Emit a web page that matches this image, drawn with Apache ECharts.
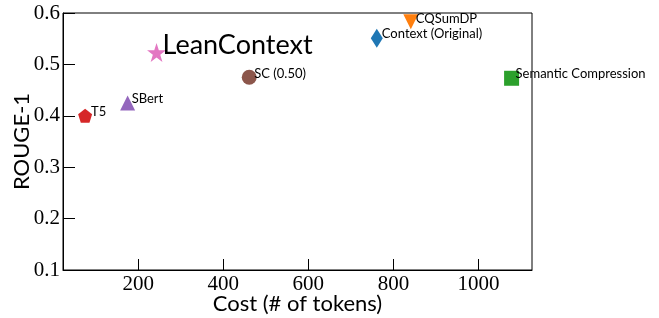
<!DOCTYPE html>
<html>
<head>
<meta charset="utf-8">
<script src="https://cdn.jsdelivr.net/npm/echarts@6/dist/echarts.min.js"></script>
<style>
  html, body { margin: 0; padding: 0; background: #fff; }
  #chart { width: 659px; height: 318px; }
</style>
</head>
<body>
<div id="chart"></div>
<script>
// methods and their cost / score
const methods = ["Context (Original)", "CQSumDP", "Semantic Compression", "T5", "SBert", "SC (0.50)", "LeanContext"];
const costs = [761, 841, 1078, 75, 175, 461, 243];
const rouge = [0.551, 0.583, 0.473, 0.400, 0.425, 0.475, 0.523];
const xTicks = [200, 400, 600, 800, 1000];
const yTicks = [0.1, 0.2, 0.3, 0.4, 0.5, 0.6];

const colors = ["#1f77b4", "#ff7f0e", "#2ca02c", "#d62728", "#9467bd", "#8c564b", "#e377c2"];
const star = "path://M50,0 L61.8,35.4 L99,35.4 L69.1,57.3 L80.3,92.7 L50,70.8 L19.7,92.7 L30.9,57.3 L1,35.4 L38.2,35.4 Z";
const pentagon = "path://M50,0 L97.6,34.5 L79.4,90.5 L20.6,90.5 L2.4,34.5 Z";
const symbols = ["diamond", "triangle", "rect", pentagon, "triangle", "circle", star];
const sizes = [[12, 19], 15, 15, 14, 15, 15, 19];
const rotates = [0, 180, 0, 0, 0, 0, 0];
const labelSize = [13, 13, 13, 13, 13, 13, 27];
const labelOff = [[5, -4], [5, -3], [4, -4], [6, -4], [4, -4], [5, -3], [6, -7]];

const chart = echarts.init(document.getElementById("chart"));

const series = methods.map((m, i) => ({
  type: "scatter",
  name: m,
  data: [[costs[i], rouge[i]]],
  symbol: symbols[i],
  symbolSize: sizes[i],
  symbolRotate: rotates[i],
  itemStyle: { color: colors[i], opacity: 1 },
  label: {
    show: true,
    formatter: m,
    position: "inside",
    align: "left",
    verticalAlign: "middle",
    offset: labelOff[i],
    color: "#000",
    fontFamily: "Lato",
    fontSize: labelSize[i]
  },
  emphasis: { disabled: true },
  z: 3
}));

chart.setOption({
  animation: false,
  grid: {
    left: 63, right: 127, top: 13, bottom: 48,
    containLabel: false,
    outerBoundsMode: "none",
    show: true, borderColor: "#000", borderWidth: 1
  },
  xAxis: {
    type: "value",
    min: 23, max: 1126,
    name: "Cost (# of tokens)",
    nameLocation: "middle",
    nameGap: 23,
    nameMoveOverlap: false,
    nameTextStyle: { fontFamily: "Lato", fontSize: 22, color: "#000" },
    splitLine: { show: false },
    axisLine: { show: true, lineStyle: { color: "#000", width: 1 } },
    axisTick: { show: true, inside: true, length: 11, customValues: xTicks, lineStyle: { color: "#000" } },
    axisLabel: {
      customValues: xTicks, margin: 4,
      fontFamily: "Liberation Serif", fontSize: 21, color: "#000",
      formatter: v => String(v)
    }
  },
  yAxis: {
    type: "value",
    min: 0.1, max: 0.6,
    name: "ROUGE-1",
    nameLocation: "middle",
    nameGap: 30,
    nameMoveOverlap: false,
    nameTextStyle: { fontFamily: "Lato", fontSize: 22, color: "#000" },
    splitLine: { show: false },
    axisLine: { show: true, lineStyle: { color: "#000", width: 1 } },
    axisTick: { show: true, inside: true, length: 12, customValues: yTicks, lineStyle: { color: "#000" } },
    axisLabel: {
      customValues: yTicks, margin: 3,
      fontFamily: "Liberation Serif", fontSize: 21, color: "#000",
      formatter: v => v.toFixed(1)
    }
  },
  series: series
});
</script>
</body>
</html>
